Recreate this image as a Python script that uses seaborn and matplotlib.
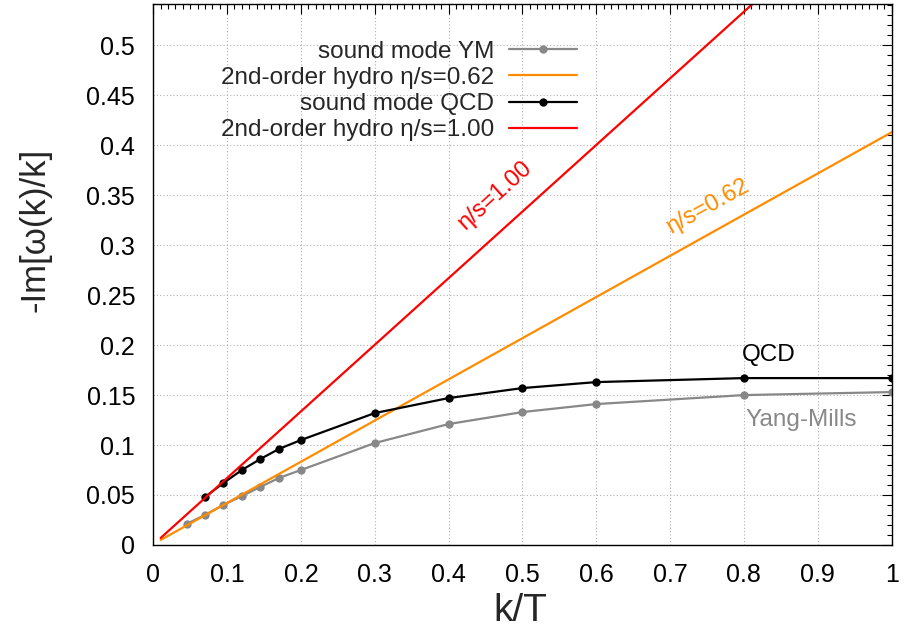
import numpy as np
import pandas as pd
import matplotlib
matplotlib.use("Agg")
import matplotlib.pyplot as plt
import seaborn as sns
from matplotlib.ticker import MultipleLocator, FuncFormatter

# sound mode, pure Yang-Mills
ym_k = [0.045, 0.07, 0.095, 0.12, 0.145, 0.17, 0.2, 0.3, 0.4, 0.5, 0.6, 0.8, 1.0]
ym_im = [0.021, 0.030, 0.040, 0.049, 0.058, 0.067, 0.075, 0.102, 0.121, 0.133, 0.141, 0.150, 0.153]

# sound mode, QCD
qcd_k = [0.07, 0.095, 0.12, 0.145, 0.17, 0.2, 0.3, 0.4, 0.5, 0.6, 0.8, 1.0]
qcd_im = [0.048, 0.062, 0.075, 0.086, 0.096, 0.105, 0.132, 0.147, 0.157, 0.163, 0.167, 0.167]

# 2nd-order hydro curves (straight lines in this range)
hydro062_k = [0.01, 1.0]
hydro062_im = [0.005, 0.413]
hydro100_k = [0.01, 0.82]
hydro100_im = [0.007, 0.547]

C_YM = "#888888"
C_ORANGE = "#ff8c00"
C_RED = "#ff0000"

sns.set_theme(style="white")
plt.rcParams["font.family"] = ["Liberation Sans", "DejaVu Sans"]

fig = plt.figure(figsize=(9.07, 6.3), dpi=100)
ax = fig.add_axes([0.169, 0.135, 0.814, 0.858])

sns.lineplot(x=ym_k, y=ym_im, ax=ax, color=C_YM, lw=1.6, marker="o", markersize=6,
             markeredgewidth=0, label="sound mode YM")
sns.lineplot(x=hydro062_k, y=hydro062_im, ax=ax, color=C_ORANGE, lw=1.6,
             label="2nd-order hydro η/s=0.62")
sns.lineplot(x=qcd_k, y=qcd_im, ax=ax, color="black", lw=1.6, marker="o", markersize=6,
             markeredgewidth=0, label="sound mode QCD")
sns.lineplot(x=hydro100_k, y=hydro100_im, ax=ax, color=C_RED, lw=1.6,
             label="2nd-order hydro η/s=1.00")

ax.set_xlim(0, 1)
ax.set_ylim(0, 0.541)
ax.xaxis.set_major_locator(MultipleLocator(0.1))
ax.xaxis.set_minor_locator(MultipleLocator(0.01))
ax.yaxis.set_major_locator(MultipleLocator(0.05))
ax.yaxis.set_minor_locator(MultipleLocator(0.01))
fmt = FuncFormatter(lambda v, _: f"{v:.2f}".rstrip("0").rstrip(".") if abs(v) > 1e-9 else "0")
ax.xaxis.set_major_formatter(fmt)
ax.yaxis.set_major_formatter(fmt)
ax.tick_params(which="both", direction="in", top=True, right=True, colors="black",
               labelsize=18, width=0.8)
ax.tick_params(which="major", length=7, pad=13)
ax.tick_params(which="minor", length=3.5)
ax.grid(True, which="major", color="#b0b0b0", linestyle=(0, (1, 2)), linewidth=0.8)
for s in ax.spines.values():
    s.set_color("black")
    s.set_linewidth(1.0)

ax.set_xlabel("k/T", fontsize=28)
ax.set_ylabel("-Im[ω(k)/k]", fontsize=25)
ax.xaxis.set_label_coords(0.497, -0.088)
ax.yaxis.set_label_coords(-0.138, 0.582)

ax.legend(loc="upper right", bbox_to_anchor=(0.574, 0.933), frameon=False, markerfirst=False,
          fontsize=17.5, handlelength=2.8, handletextpad=0.6, labelspacing=0.175,
          borderaxespad=0.0, borderpad=0.0)

ax.text(0.463, 0.35, "η/s=1.00", color=C_RED, fontsize=17, rotation=42,
        ha="center", va="center", rotation_mode="anchor")
ax.text(0.752, 0.339, "η/s=0.62", color=C_ORANGE, fontsize=17, rotation=29,
        ha="center", va="center", rotation_mode="anchor")
ax.text(0.834, 0.19, "QCD", color="black", fontsize=17.5, ha="center", va="center")
ax.text(0.878, 0.125, "Yang-Mills", color=C_YM, fontsize=17.5, ha="center", va="center")

fig.savefig("out.png", dpi=100)
